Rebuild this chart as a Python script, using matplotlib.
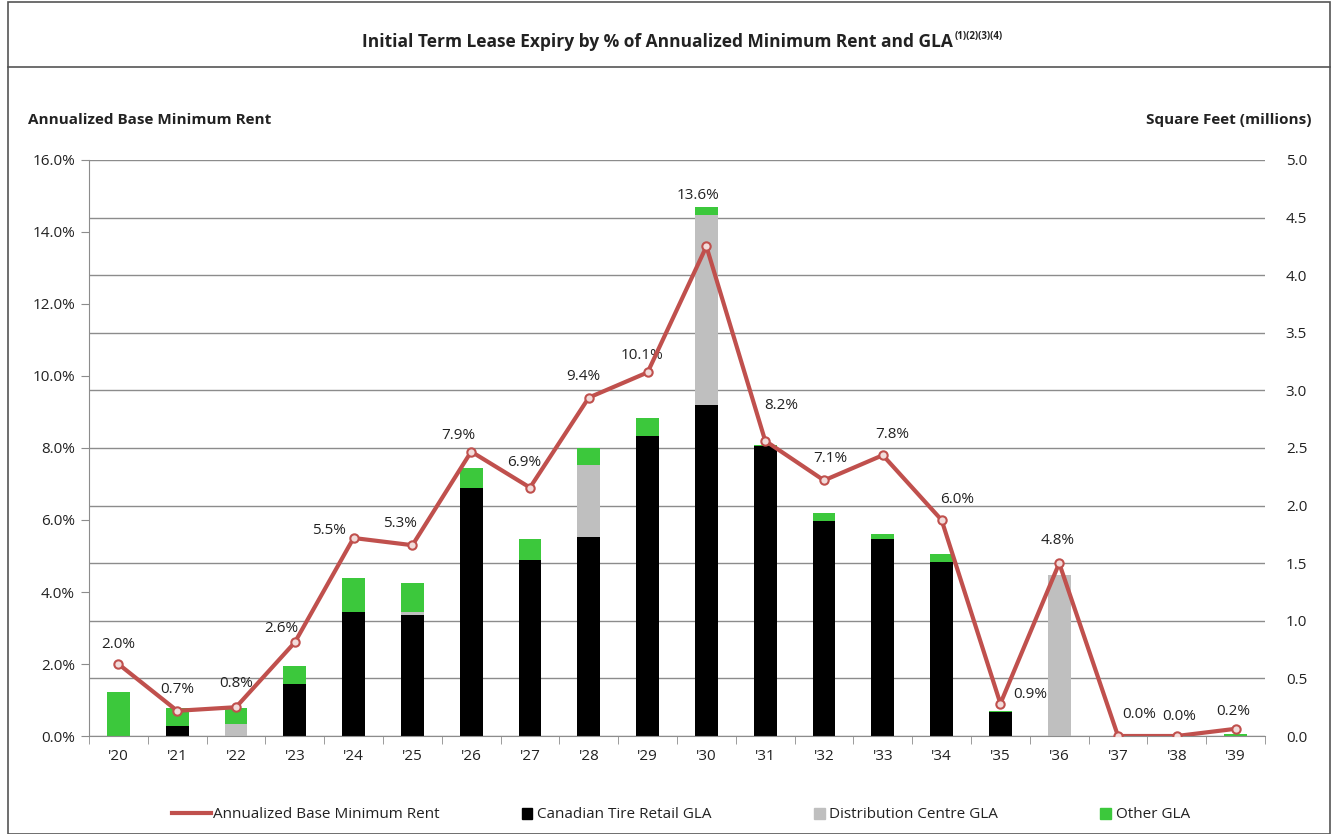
import numpy as np
import matplotlib.pyplot as plt
from matplotlib.patches import Rectangle, Patch
from matplotlib.lines import Line2D

years = ["'20", "'21", "'22", "'23", "'24", "'25", "'26", "'27", "'28", "'29",
         "'30", "'31", "'32", "'33", "'34", "'35", "'36", "'37", "'38", "'39"]

# annualized base minimum rent, % (left axis)
rent = [2.0, 0.7, 0.8, 2.6, 5.5, 5.3, 7.9, 6.9, 9.4, 10.1,
        13.6, 8.2, 7.1, 7.8, 6.0, 0.9, 4.8, 0.0, 0.0, 0.2]

# GLA, millions of square feet (right axis)
ct_retail = [0.00, 0.09, 0.00, 0.45, 1.08, 1.05, 2.15, 1.53, 1.73, 2.60,
             2.87, 2.52, 1.87, 1.71, 1.51, 0.21, 0.00, 0.00, 0.00, 0.00]
dist_centre = [0.00, 0.00, 0.10, 0.00, 0.00, 0.03, 0.00, 0.00, 0.62, 0.00,
               1.65, 0.00, 0.00, 0.00, 0.00, 0.00, 1.40, 0.00, 0.00, 0.00]
other = [0.38, 0.15, 0.14, 0.16, 0.29, 0.25, 0.18, 0.18, 0.15, 0.16,
         0.07, 0.01, 0.07, 0.04, 0.07, 0.01, 0.00, 0.00, 0.00, 0.02]

# label offsets in pixels (dx, dy) relative to each rent point
label_off = [(0, 19), (0, 21), (0, 24), (-13, 14), (-25, 7), (-12, 22), (-13, 16),
             (-6, 25), (-5, 21), (-6, 17), (-8, 51), (16, 35), (6, 22), (9, 21),
             (16, 20), (30, 9), (-2, 23), (21, 21), (2, 19), (-2, 17)]

RED = '#C0504D'
GREEN = '#3CC83C'
GREY = '#BFBFBF'
TXT = '#222222'

plt.rcParams['font.family'] = ['Open Sans', 'DejaVu Sans']
plt.rcParams['font.size'] = 11

W, H = 1332, 834
fig = plt.figure(figsize=(W / 100, H / 100), dpi=100)

ax = fig.add_axes([89 / W, 1 - 736 / H, (1265 - 89) / W, (736 - 160) / H])
ax2 = ax.twinx()

x = np.arange(len(years))
bw = 0.39
ct = np.array(ct_retail)
dc = np.array(dist_centre)
ot = np.array(other)
ax.bar(x, ct, bw, color='black', zorder=2)
ax.bar(x, dc, bw, bottom=ct, color=GREY, zorder=2)
ax.bar(x, ot, bw, bottom=ct + dc, color=GREEN, zorder=2)

ax.set_xlim(-0.5, len(years) - 0.5)
ax.set_ylim(0, 5.0)
ax.set_yticks(np.arange(0, 5.01, 0.5))
ax.set_yticklabels([f'{v:.1f}' for v in np.arange(0, 5.01, 0.5)])
ax.yaxis.tick_right()
ax.tick_params(axis='y', length=0, pad=15, colors=TXT)
ax.grid(axis='y', color='#8C8C8C', lw=1, zorder=0)
ax.set_axisbelow(True)

ax.set_xticks(x)
ax.set_xticklabels(years)
ax.set_xticks(np.arange(-0.5, len(years)), minor=True)
ax.tick_params(axis='x', which='major', length=0, pad=9, colors=TXT)
ax.tick_params(axis='x', which='minor', length=6, direction='out', color='#8C8C8C')

for s in ['top', 'right']:
    ax.spines[s].set_visible(False)
    ax2.spines[s].set_visible(False)
ax.spines['left'].set_color('#8C8C8C')
ax.spines['bottom'].set_color('#8C8C8C')
ax2.spines['left'].set_visible(False)
ax2.spines['bottom'].set_visible(False)

ax2.plot(x, rent, color=RED, lw=3, marker='o', ms=6, mfc='#F2DCDB',
         mec=RED, mew=1.5, zorder=5)
ax2.set_ylim(0, 16)
ax2.set_yticks(np.arange(0, 16.1, 2))
ax2.set_yticklabels([f'{v:.1f}%' for v in np.arange(0, 16.1, 2)])
ax2.yaxis.tick_left()
ax2.tick_params(axis='y', length=6, direction='out', color='#8C8C8C',
                colors=TXT, pad=4)

for xi, v, (dx, dy) in zip(x, rent, label_off):
    ax2.annotate(f'{v:.1f}%', (xi, v), xytext=(dx * 0.72, dy * 0.72),
                 textcoords='offset points', ha='center', va='center',
                 color=TXT)

# axis titles
fig.text(28 / W, 1 - 120 / H, 'Annualized Base Minimum Rent', fontweight='bold',
         ha='left', va='center', color=TXT)
fig.text(1312 / W, 1 - 120 / H, 'Square Feet (millions)', fontweight='bold',
         ha='right', va='center', color=TXT)

# title with superscript notes
t = fig.text(362 / W, 1 - 42 / H,
             'Initial Term Lease Expiry by % of Annualized Minimum Rent and GLA',
             fontweight='bold', ha='left', va='center', fontsize=12.5, color=TXT)
fig.canvas.draw()
bb = t.get_window_extent(fig.canvas.get_renderer())
fig.text(bb.x1 / W + 0.001, 1 - 36 / H, '(1)(2)(3)(4)', fontsize=7,
         fontweight='bold', ha='left', va='center', color=TXT)

# frame
fig.add_artist(Rectangle((8 / W, 0), (1330 - 8) / W, 1 - 2 / H,
                         transform=fig.transFigure, fill=False,
                         ec='#555555', lw=1.2))
fig.add_artist(Line2D([8 / W, 1330 / W], [1 - 67 / H, 1 - 67 / H],
                      transform=fig.transFigure, color='#555555', lw=1.2))

# legends
leg1 = fig.legend([Line2D([], [], color=RED, lw=3)],
                  ['Annualized Base Minimum Rent'],
                  loc='center left', bbox_to_anchor=(158 / W, 1 - 815 / H),
                  frameon=False, handlelength=2.6, handletextpad=0.1,
                  labelcolor=TXT)
leg2 = fig.legend([Patch(color='black'), Patch(color=GREY), Patch(color=GREEN)],
                  ['Canadian Tire Retail GLA', 'Distribution Centre GLA', 'Other GLA'],
                  loc='center left', bbox_to_anchor=(508 / W, 1 - 815 / H),
                  frameon=False, ncol=3, handlelength=0.7, handleheight=0.7,
                  handletextpad=0.3, columnspacing=6.7, labelcolor=TXT)

fig.savefig('out.png', dpi=100)
